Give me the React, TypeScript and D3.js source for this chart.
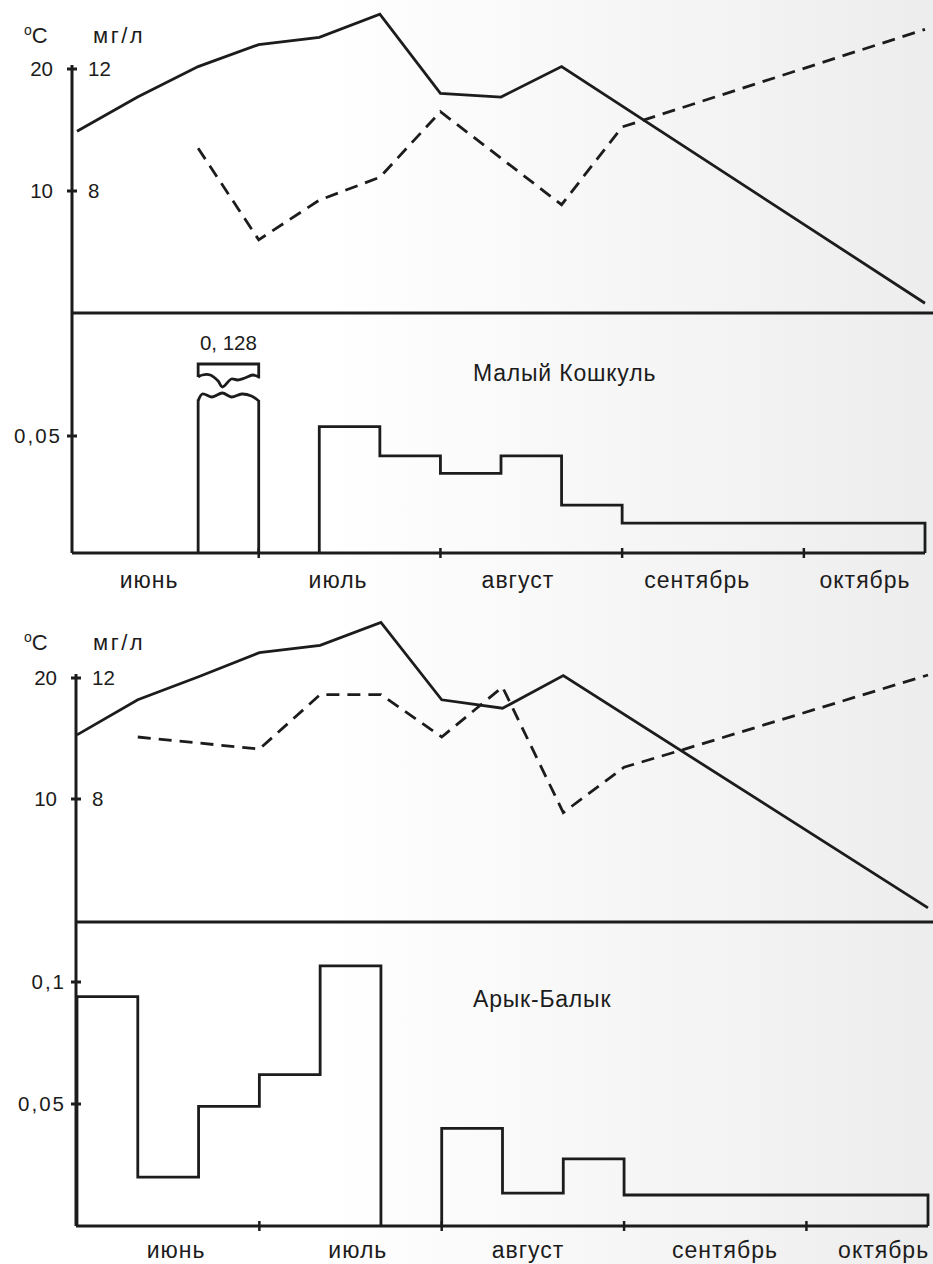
import React from "react";
import * as d3 from "d3";

const WIDTH = 933;
const HEIGHT = 1264;
const FONT = "'Liberation Sans', Arial, Helvetica, sans-serif";
const INK = "#1c1c1c";

// x axis is in dekads (10-day periods) starting at 1 June
const monthNames = ["июнь", "июль", "август", "сентябрь", "октябрь"];
const monthTicks = [3, 6, 9, 12];
const tempTicks = [10, 20];
const oxyTicks = [8, 12];

// Малый Кошкуль
const tempDekads1 = [0, 1, 2, 3, 4, 5, 6, 7, 8, 14];
const temp1 = [14.9, 17.7, 20.2, 22.0, 22.6, 24.5, 18.0, 17.7, 20.2, 0.8];
const oxyDekads1 = [2, 3, 4, 5, 6, 8, 9, 14];
const oxy1 = [9.4, 6.4, 7.7, 8.45, 10.6, 7.55, 10.1, 13.3];
const conc1 = [null, null, 0.128, null, 0.054, 0.0415, 0.034, 0.0415, 0.0205, 0.0128, 0.0128, 0.0128, 0.0128, 0.0128];
const concTicks1 = [0.05];

// Арык-Балык
const tempDekads2 = [0, 1, 2, 3, 4, 5, 6, 7, 8, 14];
const temp2 = [15.3, 18.2, 20.1, 22.1, 22.7, 24.6, 18.2, 17.5, 20.2, 1.0];
const oxyDekads2 = [1, 3, 4, 5, 6, 7, 8, 9, 10, 14];
const oxy2 = [10.05, 9.65, 11.45, 11.45, 10.05, 11.7, 7.55, 9.05, 9.65, 12.1];
const conc2 = [0.094, 0.02, 0.049, 0.062, 0.1066, null, 0.04, 0.0135, 0.0275, 0.0127, 0.0127, 0.0127, 0.0127, 0.0127];
const concTicks2 = [0.05, 0.1];

const panels = [
  {
    title: "Малый Кошкуль",
    tempDekads: tempDekads1, temp: temp1, oxyDekads: oxyDekads1, oxy: oxy1,
    conc: conc1, concTicks: concTicks1,
    monthPos: [1.19, 4.31, 7.28, 10.24, 13.01],
    axisX: 72, x0: 77, x1: 925, axisTop: 65, y20: 69, y0: 313, divider: 313,
    base: 553, y005: 436, unitsY: 43, titleY: 381, monthY: 588,
  },
  {
    title: "Арык-Балык",
    tempDekads: tempDekads2, temp: temp2, oxyDekads: oxyDekads2, oxy: oxy2,
    conc: conc2, concTicks: concTicks2,
    monthPos: [1.63, 4.62, 7.42, 10.66, 13.27],
    axisX: 76, x0: 77, x1: 928, axisTop: 674, y20: 678, y0: 920, divider: 922,
    base: 1226, y005: 1104, unitsY: 650, titleY: 1007, monthY: 1258,
  },
];

const commaFmt = (v: number) => String(v).replace(".", ",");

// split a per-dekad array into runs of consecutive bars
function runs(values: (number | null)[]) {
  const out: { i: number; v: number }[][] = [];
  let cur: { i: number; v: number }[] | null = null;
  values.forEach((v, i) => {
    if (v == null) { cur = null; return; }
    if (!cur) { cur = []; out.push(cur); }
    cur.push({ i, v });
  });
  return out;
}

function Panel({ p }: { p: any }) {
  const x = d3.scaleLinear().domain([0, 14]).range([p.x0, p.x1]);
  const yT = d3.scaleLinear().domain([0, 20]).range([p.y0, p.y20]);
  const yO = d3.scaleLinear().domain([4, 12]).range([p.y0, p.y20]);
  const yC = d3.scaleLinear().domain([0, 0.05]).range([p.base, p.y005]);

  const line = d3.line<[number, number]>();
  const tempPath = line(p.tempDekads.map((d: number, i: number) => [x(d), yT(p.temp[i])]));
  const oxyPath = line(p.oxyDekads.map((d: number, i: number) => [x(d), yO(p.oxy[i])]));

  const barRuns = runs(p.conc);
  const wave = d3.line<[number, number]>().curve(d3.curveCatmullRom.alpha(0.5));

  const stroke = { stroke: INK, strokeWidth: 2.8, fill: "none" };

  return (
    <g fontFamily={FONT} fill={INK}>
      {/* y axis */}
      <line x1={p.axisX} x2={p.axisX} y1={p.axisTop} y2={p.base} stroke={INK} strokeWidth={3} />
      {/* divider between panels */}
      <line x1={p.axisX} x2={WIDTH} y1={p.divider} y2={p.divider} stroke={INK} strokeWidth={3} />
      {/* baseline */}
      <line x1={p.axisX} x2={p.x1} y1={p.base} y2={p.base} stroke={INK} strokeWidth={3} />

      {/* units */}
      <text x={24} y={p.unitsY} fontSize={22}>
        <tspan fontSize={14} dy={-8}>o</tspan>
        <tspan dy={8}>C</tspan>
      </text>
      <text x={93} y={p.unitsY} fontSize={22} letterSpacing={2.5}>мг/л</text>

      {/* temperature / oxygen ticks */}
      {tempTicks.map((t, i) => (
        <g key={t}>
          <line x1={p.axisX - 5} x2={p.axisX + 5} y1={yT(t)} y2={yT(t)} stroke={INK} strokeWidth={3} />
          <text x={p.axisX - 19} y={yT(t) + 7} fontSize={20.5} textAnchor="end">{t}</text>
          <text x={p.axisX + 16} y={yT(t) + 7} fontSize={20.5}>{oxyTicks[i]}</text>
        </g>
      ))}

      {/* concentration ticks */}
      {p.concTicks.map((c: number) => (
        <g key={c}>
          <line x1={p.axisX - 5} x2={p.axisX + 5} y1={yC(c)} y2={yC(c)} stroke={INK} strokeWidth={3} />
          <text x={p.axisX - 10} y={yC(c) + 7} fontSize={20.5} textAnchor="end" letterSpacing={2}>
            {commaFmt(c)}
          </text>
        </g>
      ))}

      {/* month ticks and labels */}
      {monthTicks.map((m) => (
        <line key={m} x1={x(m)} x2={x(m)} y1={p.base - 5} y2={p.base + 5} stroke={INK} strokeWidth={2.5} />
      ))}
      {monthNames.map((name, i) => (
        <text key={name} x={x(p.monthPos[i])} y={p.monthY} fontSize={23} textAnchor="middle" letterSpacing={1}>
          {name}
        </text>
      ))}

      {/* title */}
      <text x={473} y={p.titleY} fontSize={23} letterSpacing={0.8}>{p.title}</text>

      {/* lines */}
      <path d={tempPath || ""} {...stroke} strokeLinejoin="miter" />
      <path d={oxyPath || ""} {...stroke} strokeDasharray="13 8" />

      {/* concentration bars (stepped outlines) */}
      {barRuns.map((run, k) => {
        const xa = x(run[0].i);
        const xb = x(run[run.length - 1].i + 1);
        if (run.length === 1 && yC(run[0].v) < p.divider) {
          // value off the scale: cut bar with a separate cap
          const w = xb - xa;
          const cut = 397;
          const topPts: [number, number][] = [
            [0, 4], [0.07, -3], [0.23, 0], [0.4, -4], [0.55, 0], [0.72, -3], [0.88, -1], [1, 4],
          ].map(([f, o]) => [xa + f * w, cut + o]);
          const topD = wave(topPts) || "";
          const barD = `M${xa},${p.base}L${xa},${cut + 4}` + topD.replace(/^M/, "L") + `L${xb},${p.base}`;
          const capTop = cut - 33;
          const capPts: [number, number][] = [
            [1, 13], [0.9, 11], [0.77, 14], [0.65, 16], [0.55, 15], [0.4, 23], [0.33, 17], [0.2, 11], [0.07, 11], [0, 13],
          ].map(([f, o]) => [xa + f * w, capTop + o]);
          const capD = `M${xa},${capTop + 13}L${xa},${capTop}L${xb},${capTop}L${xb},${capTop + 13}` +
            (wave(capPts) || "").replace(/^M/, "L");
          return (
            <g key={k}>
              <path d={barD} {...stroke} />
              <path d={capD} {...stroke} />
              <text x={(xa + xb) / 2} y={capTop - 14} fontSize={20.5} textAnchor="middle">
                {commaFmt(run[0].v).replace(",", ", ")}
              </text>
            </g>
          );
        }
        const pts: [number, number][] = [[xa, p.base]];
        run.forEach(({ i, v }) => {
          pts.push([x(i), yC(v)], [x(i + 1), yC(v)]);
        });
        pts.push([xb, p.base]);
        return <path key={k} d={line(pts) || ""} {...stroke} />;
      })}
    </g>
  );
}

export default function App() {
  return (
    <svg
      width={WIDTH}
      height={HEIGHT}
      style={{ position: "absolute", left: 0, top: 0, display: "block" }}
    >
      <defs>
        <linearGradient id="paper" x1="0" x2="1" y1="0" y2="0">
          <stop offset="0.35" stopColor="#ffffff" />
          <stop offset="1" stopColor="#ededed" />
        </linearGradient>
      </defs>
      <rect width={WIDTH} height={HEIGHT} fill="url(#paper)" />
      {panels.map((p, i) => (
        <Panel key={i} p={p} />
      ))}
    </svg>
  );
}
